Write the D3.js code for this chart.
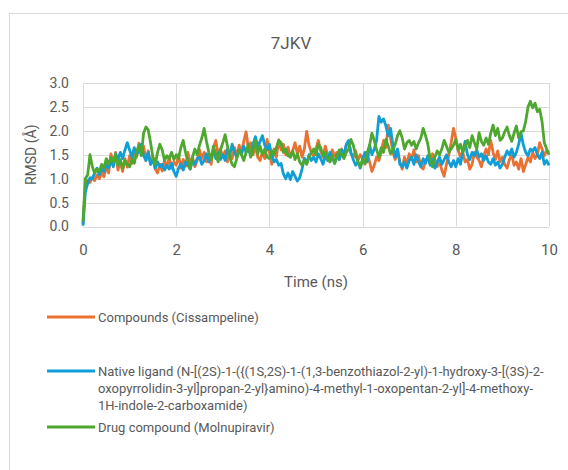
<!DOCTYPE html>
<html>
<head>
<meta charset="utf-8">
<script src="https://cdn.jsdelivr.net/npm/d3@7"></script>
<style>
  body { margin: 0; background: #fff; }
  svg text { font-family: Roboto, "Noto Sans", sans-serif; fill: #595959; }
</style>
</head>
<body>
<div id="chart"></div>
<script>
// Data (RMSD in Å, every 0.05 ns)
const chartTitle = "7JKV";
const xTicks = [0, 2, 4, 6, 8, 10];
const yTicks = [0, 0.5, 1, 1.5, 2, 2.5, 3];
const seriesNames = [
  "Compounds (Cissampeline)",
  "Native ligand (N-[(2S)-1-({(1S,2S)-1-(1,3-benzothiazol-2-yl)-1-hydroxy-3-[(3S)-2-oxopyrrolidin-3-yl]propan-2-yl}amino)-4-methyl-1-oxopentan-2-yl]-4-methoxy-1H-indole-2-carboxamide)",
  "Drug compound (Molnupiravir)"
];
// the long legend entry wraps like in the reference
const nativeLegendLines = [
  "Native ligand (N-[(2S)-1-({(1S,2S)-1-(1,3-benzothiazol-2-yl)-1-hydroxy-3-[(3S)-2-",
  "oxopyrrolidin-3-yl]propan-2-yl}amino)-4-methyl-1-oxopentan-2-yl]-4-methoxy-",
  "1H-indole-2-carboxamide)"
];
const seriesColors = ["#E97132", "#0F9ED5", "#4EA72E"];

const cissampeline = [
  0.05, 0.88, 0.97, 0.92, 1.02, 0.96, 1.08, 1.0, 1.12, 1.04, 1.25, 1.12, 1.52, 1.28, 1.55, 1.18, 1.36, 1.15, 1.42, 1.24,
  1.48, 1.32, 1.62, 1.45, 1.74, 1.56, 1.68, 1.38, 1.58, 1.3, 1.46, 1.2, 1.12, 1.3, 1.16, 1.38, 1.24, 1.45, 1.22, 1.35,
  1.28, 1.5, 1.22, 1.4, 1.26, 1.55, 1.3, 1.45, 1.25, 1.38, 1.6, 1.42, 1.55, 1.35, 1.48, 1.3, 1.65, 1.8, 1.5, 1.62,
  1.45, 1.58, 1.35, 1.5, 1.42, 1.65, 1.48, 1.7, 1.55, 1.78, 1.98, 1.62, 1.75, 1.5, 1.68, 1.45, 1.38, 1.55, 1.42, 1.82,
  1.55, 1.3, 1.62, 1.45, 1.81, 1.6, 1.72, 1.5, 1.66, 1.45, 1.58, 1.75, 1.52, 1.68, 1.45, 1.62, 1.99, 1.7, 1.55, 1.48,
  1.62, 1.8, 1.58, 1.45, 1.68, 1.5, 1.42, 1.6, 1.48, 1.55, 1.4, 1.62, 1.5, 1.7, 1.75, 1.52, 1.45, 1.58, 1.38, 1.5,
  1.42, 1.3, 1.5, 1.35, 1.15, 1.28, 1.45, 1.38, 1.55, 1.8, 1.65, 2.12, 1.85, 1.55, 1.4, 1.6, 1.35, 1.2, 1.45, 1.3,
  1.52, 1.4, 1.6, 1.35, 1.48, 1.25, 1.2, 1.38, 1.45, 1.3, 1.52, 1.4, 1.25, 1.35, 1.18, 1.05, 1.3, 1.5, 1.75, 2.05,
  1.85, 1.6, 1.45, 1.55, 1.35, 1.4, 1.2, 1.3, 1.55, 1.45, 1.38, 1.25, 1.48, 1.62, 1.5, 1.8, 1.55, 1.4, 1.58, 1.35,
  1.45, 1.3, 1.22, 1.4, 1.5, 1.28, 1.35, 1.2, 1.42, 1.15, 1.3, 1.45, 1.35, 1.55, 1.42, 1.5, 1.75, 1.62, 1.48, 1.58,
  1.55
];

const nativeLigand = [
  0.02, 0.72, 0.9, 1.02, 1.0, 1.12, 1.22, 1.08, 1.2, 1.15, 1.3, 1.22, 1.38, 1.25, 1.52, 1.4, 1.55, 1.42, 1.6, 1.75,
  1.6, 1.45, 1.65, 1.5, 1.58, 1.72, 1.48, 1.38, 1.55, 1.3, 1.4, 1.22, 1.35, 1.25, 1.3, 1.18, 1.28, 1.2, 1.32, 1.15,
  1.05, 1.22, 1.3, 1.18, 1.35, 1.28, 1.2, 1.38, 1.3, 1.42, 1.45, 1.3, 1.38, 1.52, 1.35, 1.48, 1.6, 1.42, 1.55, 1.4,
  1.5, 1.38, 1.62, 1.48, 1.72, 1.55, 1.45, 1.6, 1.5, 1.68, 1.55, 1.62, 1.48, 1.72, 1.88, 1.65, 1.78, 1.9, 1.7, 1.6,
  1.72, 1.5, 1.35, 1.4, 1.28, 1.32, 1.1, 1.0, 1.12, 0.98, 1.15, 1.05, 0.95, 1.02, 1.2, 1.43, 1.32, 1.5, 1.38, 1.45,
  1.35, 1.52, 1.42, 1.3, 1.48, 1.38, 1.55, 1.45, 1.32, 1.5, 1.4, 1.6, 1.48, 1.72, 1.8, 1.55, 1.4, 1.28, 1.35, 1.22,
  1.4, 1.55, 1.35, 1.7, 1.5, 1.62, 1.8, 2.3, 2.18, 2.25, 2.1, 1.9, 2.05, 1.7, 1.45, 1.62, 1.3, 1.25, 1.35, 1.22,
  1.38, 1.45, 1.3, 1.5, 1.35, 1.25, 1.42, 1.32, 1.48, 1.28, 1.4, 1.22, 1.35, 1.45, 1.3, 1.4, 1.5, 1.35, 1.25, 1.38,
  1.25, 1.42, 1.3, 1.55, 1.78, 1.5, 1.4, 1.55, 1.48, 1.6, 1.45, 1.52, 1.38, 1.48, 1.35, 1.3, 1.42, 1.28, 1.35, 1.22,
  1.3, 1.45, 1.58, 1.5, 1.62, 1.45, 1.55, 1.72, 1.95, 1.7, 1.55, 1.48, 1.62, 1.58, 1.65, 1.5, 1.42, 1.55, 1.3, 1.38,
  1.28
];

const molnupiravir = [
  0.1, 1.0, 1.08, 1.5, 1.25, 1.12, 1.2, 1.15, 1.3, 1.22, 1.42, 1.3, 1.45, 1.35, 1.5, 1.28, 1.4, 1.22, 1.38, 1.3,
  1.25, 1.4, 1.32, 1.55, 1.7, 1.48, 1.95, 2.08, 2.02, 1.75, 1.45, 1.3, 1.55, 1.72, 1.6, 1.38, 1.48, 1.42, 1.55, 1.4,
  1.5, 1.42, 1.65, 1.8, 1.55, 1.38, 1.2, 1.45, 1.62, 1.5, 1.7, 1.85, 2.05, 1.78, 1.55, 1.4, 1.68, 1.5, 1.35, 1.6,
  1.75, 1.92, 1.68, 1.45, 1.3, 1.25, 1.42, 1.6, 1.5, 1.38, 1.55, 1.72, 1.45, 1.6, 1.8, 1.52, 1.68, 1.5, 1.62, 1.45,
  1.42, 1.58, 1.5, 1.65, 1.8, 1.75, 1.55, 1.62, 1.48, 1.45, 1.58, 1.4, 1.52, 1.35, 1.28, 1.38, 1.3, 1.45, 1.55, 1.62,
  1.5, 1.72, 1.65, 1.48, 1.55, 1.42, 1.35, 1.48, 1.32, 1.45, 1.6, 1.5, 1.42, 1.55, 1.62, 1.82, 1.7, 1.5, 1.35, 1.25,
  1.4, 1.32, 1.55, 1.7, 1.95, 1.8, 1.6, 1.45, 1.65, 1.55, 1.82, 1.68, 1.52, 1.6, 1.72, 1.9, 2.0, 1.85, 1.62, 1.75,
  1.8, 1.7, 1.78, 1.62, 1.75, 1.85, 2.05, 1.9, 1.72, 1.4, 1.25, 1.45, 1.58, 1.5, 1.62, 1.8, 1.68, 1.55, 1.62, 1.7,
  1.82, 1.6, 1.72, 1.55, 1.68, 1.8, 1.65, 1.9, 1.75, 1.62, 1.96, 1.78, 1.7, 1.85, 1.72, 1.95, 2.12, 1.9, 2.05, 1.8,
  1.85, 1.98, 2.08, 1.9, 1.78, 1.95, 2.1, 1.85, 1.98, 2.0, 2.2, 2.5, 2.62, 2.48, 2.58, 2.4, 2.45, 2.2, 1.75, 1.62,
  1.5
];

const timeStep = 0.05; // ns between frames

(function() {
  const width = 568, height = 470;
  const plot = { left: 83, right: 549, top: 83, bottom: 226.5 };

  const svg = d3.select("#chart")
    .append("svg")
    .attr("width", width)
    .attr("height", height);

  // chart area border (runs off the right and bottom edge)
  svg.append("rect")
    .attr("x", 9.5)
    .attr("y", 13.5)
    .attr("width", 700)
    .attr("height", 600)
    .attr("fill", "#fff")
    .attr("stroke", "#d9d9d9");

  const x = d3.scaleLinear().domain([0, 10]).range([plot.left, plot.right]);
  const y = d3.scaleLinear().domain([0, 3]).range([plot.bottom, plot.top]);

  // Title
  svg.append("text")
    .attr("x", 291)
    .attr("y", 49)
    .attr("text-anchor", "middle")
    .attr("font-size", "17px")
    .text(chartTitle);

  // Grid lines
  svg.append("g")
    .selectAll("line")
    .data(yTicks)
    .enter().append("line")
    .attr("x1", plot.left)
    .attr("x2", plot.right)
    .attr("y1", d => Math.round(y(d)) + 0.5)
    .attr("y2", d => Math.round(y(d)) + 0.5)
    .attr("stroke", "#d9d9d9");

  svg.append("g")
    .selectAll("line")
    .data(xTicks)
    .enter().append("line")
    .attr("x1", d => Math.round(x(d)) + 0.5)
    .attr("x2", d => Math.round(x(d)) + 0.5)
    .attr("y1", plot.top)
    .attr("y2", plot.bottom)
    .attr("stroke", "#d9d9d9");

  // Y axis labels
  const yAxis = svg.append("g")
    .attr("transform", `translate(${plot.left},0)`)
    .call(d3.axisLeft(y).tickValues(yTicks).tickFormat(d3.format(".1f")).tickSize(0).tickPadding(14));
  yAxis.select(".domain").remove();
  yAxis.selectAll("text")
    .attr("font-size", "14px")
    .attr("font-family", null)
    .attr("fill", null);

  // X axis labels
  const xAxis = svg.append("g")
    .attr("transform", `translate(0,${plot.bottom})`)
    .call(d3.axisBottom(x).tickValues(xTicks).tickFormat(d3.format("d")).tickSize(0).tickPadding(18));
  xAxis.select(".domain").remove();
  xAxis.selectAll("text")
    .attr("font-size", "15px")
    .attr("font-family", null)
    .attr("fill", null);

  // Axis titles
  svg.append("text")
    .attr("x", (plot.left + plot.right) / 2)
    .attr("y", 287)
    .attr("text-anchor", "middle")
    .attr("font-size", "15px")
    .text("Time (ns)");

  svg.append("text")
    .attr("transform", "rotate(-90)")
    .attr("x", -(plot.top + plot.bottom) / 2)
    .attr("y", 36)
    .attr("text-anchor", "middle")
    .attr("font-size", "14px")
    .text("RMSD (Å)");

  // Lines
  const lineGenerator = d3.line()
    .x((d, i) => x(i * timeStep))
    .y(d => y(d));

  [cissampeline, nativeLigand, molnupiravir].forEach((values, i) => {
    svg.append("path")
      .datum(values)
      .attr("fill", "none")
      .attr("stroke", seriesColors[i])
      .attr("stroke-width", 2.8)
      .attr("stroke-linejoin", "round")
      .attr("d", lineGenerator);
  });

  // Legend
  const legendRows = [
    { y: 317, lines: [seriesNames[0]] },
    { y: 371, lines: nativeLegendLines },
    { y: 427, lines: [seriesNames[2]] }
  ];

  const legend = svg.append("g");
  legendRows.forEach((row, i) => {
    legend.append("line")
      .attr("x1", 47)
      .attr("x2", 95)
      .attr("y1", row.y)
      .attr("y2", row.y)
      .attr("stroke", seriesColors[i])
      .attr("stroke-width", 2.8);
    const label = legend.append("text")
      .attr("x", 98)
      .attr("y", row.y)
      .attr("font-size", "13px");
    row.lines.forEach((t, j) => {
      label.append("tspan")
        .attr("x", 98)
        .attr("dy", j === 0 ? "0.35em" : "17px")
        .text(t);
    });
  });
})();
</script>
</body>
</html>
